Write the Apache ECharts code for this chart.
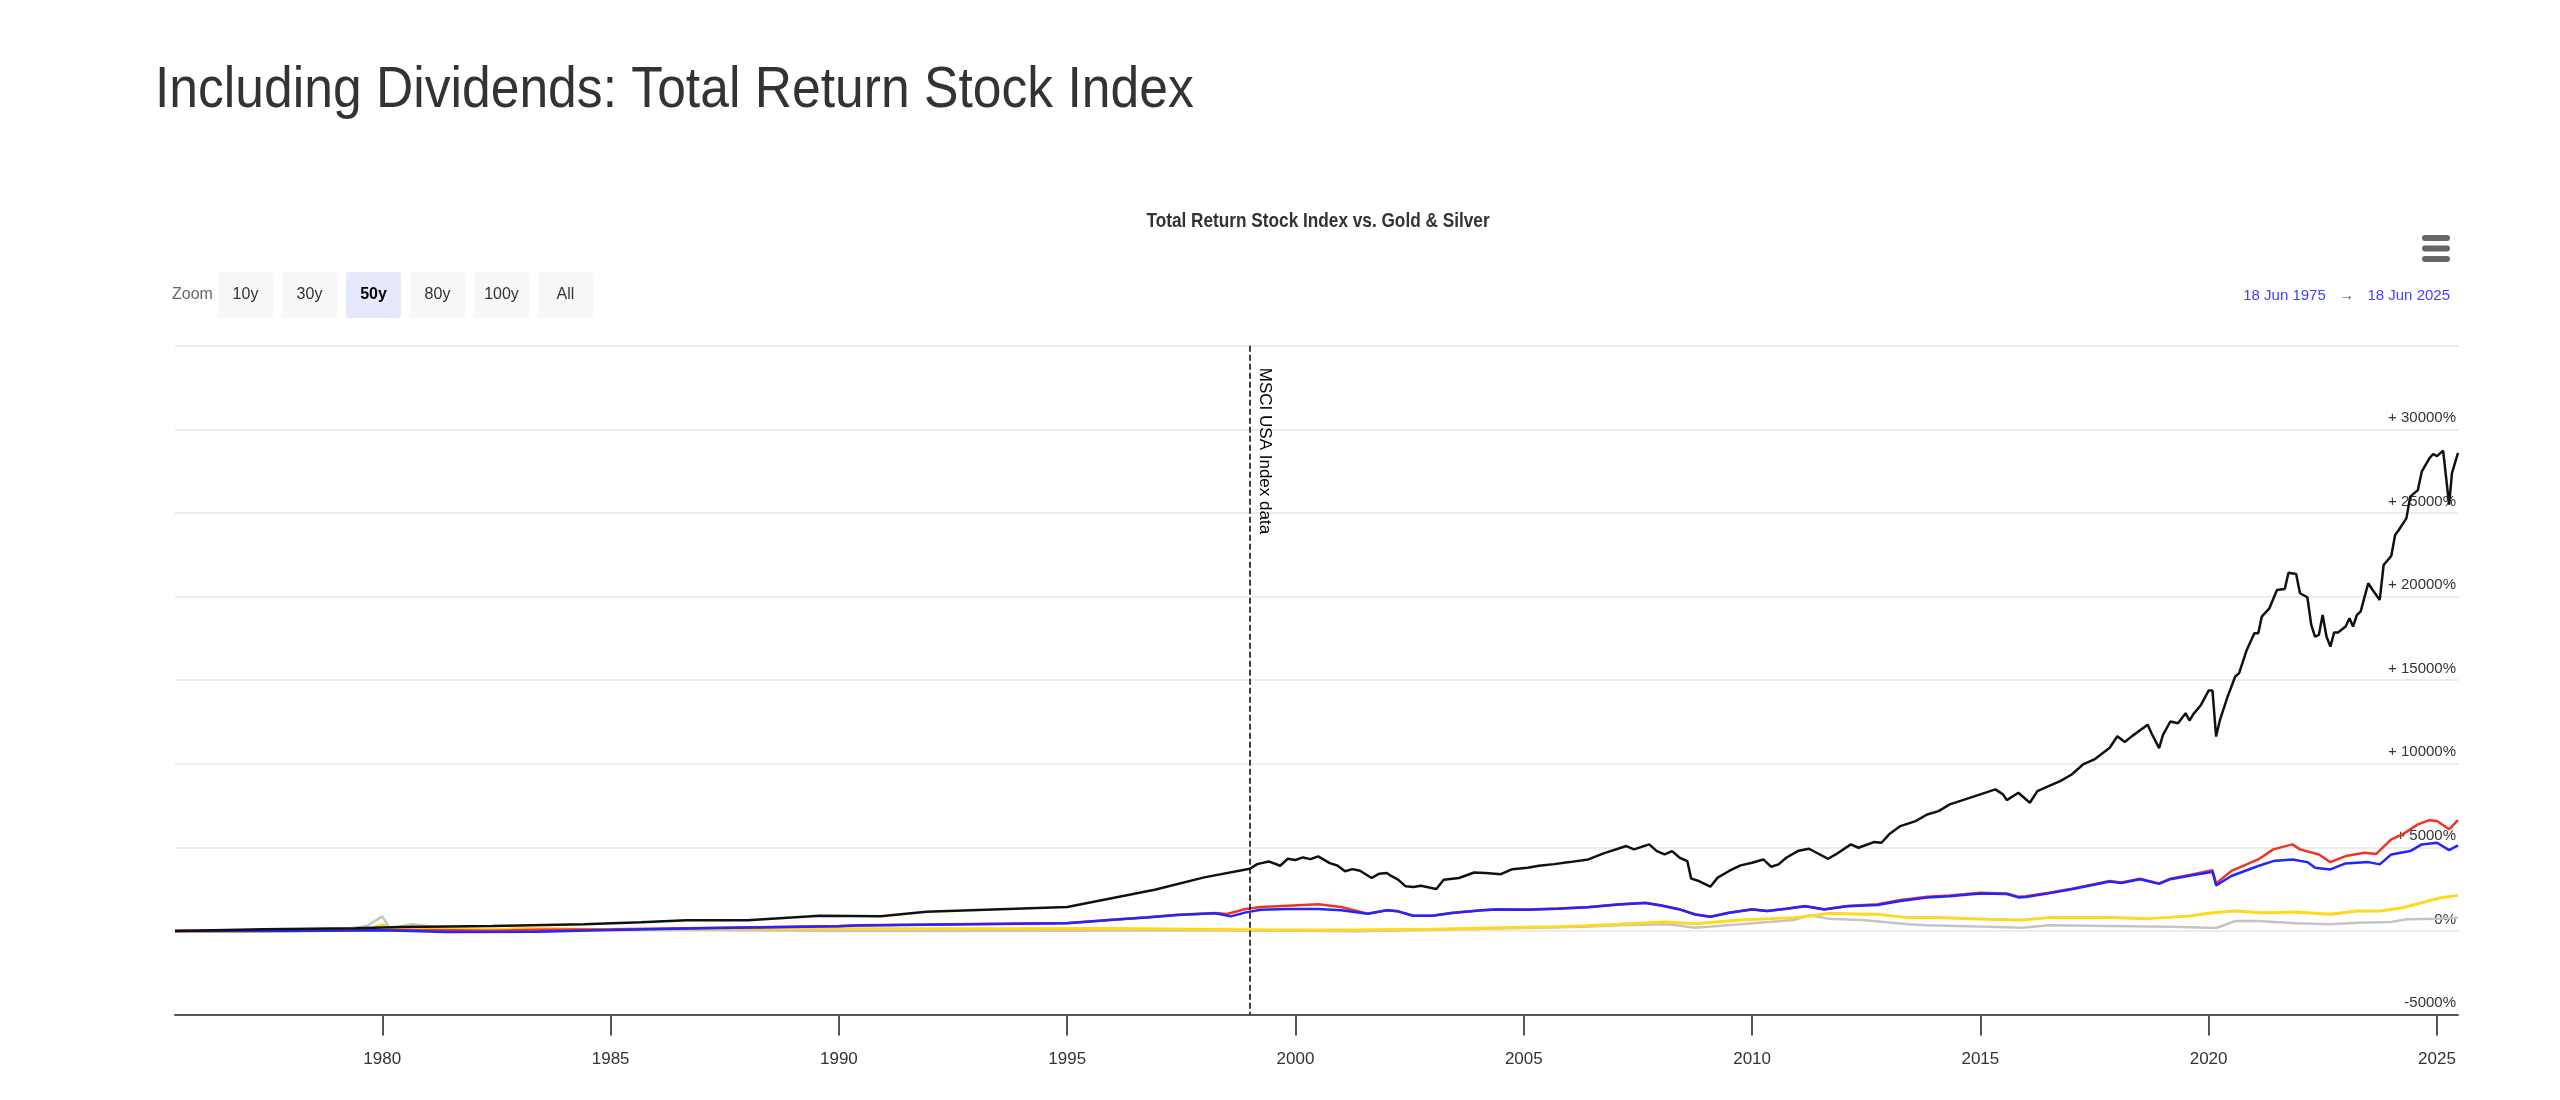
<!DOCTYPE html>
<html>
<head>
<meta charset="utf-8">
<title>Including Dividends: Total Return Stock Index</title>
<script src="https://cdn.jsdelivr.net/npm/echarts@6/dist/echarts.min.js"></script>
<style>
    html, body { margin: 0; padding: 0; background: #fff; }
    #chartOne { width: 2560px; height: 1100px; }
</style>
</head>
<body>
<div id="chartOne"></div>
<script>
// range shown by the 50y zoom
var rangeStart = '1975-06-18';
var rangeEnd = '2025-06-18';
var plotLineDate = '1999-01-01';

var zoomButtons = ['10y', '30y', '50y', '80y', '100y', 'All'];
var zoomSelected = '50y';

var yearTicks = ['1980', '1985', '1990', '1995', '2000', '2005', '2010', '2015', '2020', '2025'];

// % change since start
var stockTR = [
    ['1975-06-18', 0], ['1977-06', 100], ['1979-06', 160], ['1980-06', 240], ['1982-06', 300],
    ['1984-06', 400], ['1985-09', 520], ['1986-09', 640], ['1988-01', 640], ['1989-08', 915],
    ['1990-12', 880], ['1991-12', 1155], ['1995-01', 1434], ['1996-12', 2470], ['1998-01', 3207],
    ['1999-01', 3720], ['1999-03', 4000], ['1999-06', 4160], ['1999-09', 3900], ['1999-11', 4320],
    ['2000-01', 4250], ['2000-03', 4400], ['2000-05', 4300], ['2000-07', 4460], ['2000-10', 4060],
    ['2000-12', 3920], ['2001-02', 3570], ['2001-04', 3700], ['2001-06', 3600], ['2001-09', 3170],
    ['2001-11', 3430], ['2002-01', 3470], ['2002-02', 3310], ['2002-04', 3070], ['2002-06', 2670],
    ['2002-08', 2630], ['2002-10', 2710], ['2003-02', 2510], ['2003-04', 3070], ['2003-08', 3170],
    ['2003-12', 3500], ['2004-03', 3470], ['2004-07', 3400], ['2004-10', 3700], ['2005-02', 3780],
    ['2005-05', 3900], ['2005-09', 4000], ['2006-01', 4120], ['2006-06', 4280], ['2006-10', 4640],
    ['2007-04', 5080], ['2007-06', 4880], ['2007-10', 5180], ['2007-12', 4780], ['2008-02', 4580],
    ['2008-04', 4780], ['2008-06', 4380], ['2008-08', 4180], ['2008-09', 3130], ['2008-11', 2990],
    ['2009-02', 2650], ['2009-04', 3190], ['2009-07', 3590], ['2009-10', 3925], ['2010-01', 4080],
    ['2010-04', 4280], ['2010-06', 3845], ['2010-08', 3985], ['2010-10', 4380], ['2011-01', 4780],
    ['2011-04', 4920], ['2011-06', 4680], ['2011-09', 4320], ['2011-11', 4580], ['2012-03', 5180],
    ['2012-05', 4980], ['2012-09', 5320], ['2012-11', 5280], ['2013-01', 5780], ['2013-04', 6275],
    ['2013-08', 6575], ['2013-11', 6970], ['2014-02', 7170], ['2014-05', 7570], ['2014-09', 7870],
    ['2015-01', 8170], ['2015-05', 8470], ['2015-07', 8170], ['2015-08', 7830], ['2015-11', 8270],
    ['2016-02', 7670], ['2016-04', 8370], ['2016-08', 8765], ['2016-10', 8965], ['2017-01', 9360],
    ['2017-04', 9960], ['2017-07', 10260], ['2017-11', 10960], ['2018-01', 11650], ['2018-03', 11300],
    ['2018-05', 11670], ['2018-09', 12330], ['2018-10', 11830], ['2018-12', 10940], ['2019-01', 11730],
    ['2019-03', 12530], ['2019-05', 12430], ['2019-07', 13030], ['2019-08', 12590], ['2019-09', 12970],
    ['2019-11', 13520], ['2020-01', 14380], ['2020-02', 14380], ['2020-03', 11630], ['2020-04', 12630],
    ['2020-06', 14020], ['2020-08', 15220], ['2020-09', 15420], ['2020-11', 16810], ['2021-01', 17810],
    ['2021-02', 17810], ['2021-03', 18800], ['2021-05', 19300], ['2021-07', 20400], ['2021-09', 20460],
    ['2021-10', 21430], ['2021-12', 21350], ['2022-01', 20200], ['2022-03', 19960], ['2022-04', 18310],
    ['2022-05', 17610], ['2022-06', 17710], ['2022-07', 18900], ['2022-08', 17610], ['2022-09', 17010],
    ['2022-10', 17850], ['2022-11', 17850], ['2023-01', 18210], ['2023-02', 18700], ['2023-03', 18210],
    ['2023-04', 18900], ['2023-05', 19100], ['2023-07', 20800], ['2023-08', 20440], ['2023-10', 19800],
    ['2023-11', 21890], ['2024-01', 22430], ['2024-02', 23690], ['2024-03', 23980], ['2024-05', 24680],
    ['2024-06', 25980], ['2024-08', 26370], ['2024-09', 27470], ['2024-11', 28270], ['2024-12', 28530],
    ['2025-01', 28400], ['2025-02-19', 28730], ['2025-04-08', 25500], ['2025-05-01', 27400], ['2025-06-18', 28600]
];

var stockUSD = [
    ['1975-06-18', 0], ['1978-01', 20], ['1980-01', 60], ['1981-06', 40], ['1982-06', 20],
    ['1983-06', 80], ['1985-01', 100], ['1987-01', 180], ['1990-01', 300], ['1990-06', 340],
    ['1995-01', 480], ['1996-01', 680], ['1996-10', 820], ['1997-06', 975], ['1998-04', 1075],
    ['1998-07', 1015], ['1998-12', 1315], ['1999-04', 1434], ['1999-11', 1514], ['2000-07', 1594],
    ['2001-01', 1434], ['2001-08', 1036], ['2002-01', 1235], ['2002-04', 1175], ['2002-08', 916],
    ['2003-01', 916], ['2003-06', 1075], ['2004-02', 1235], ['2004-06', 1295], ['2005-02', 1280],
    ['2005-10', 1340], ['2006-06', 1435], ['2007-02', 1595], ['2007-09', 1690], ['2008-01', 1535],
    ['2008-06', 1295], ['2008-10', 1000], ['2009-02', 855], ['2009-07', 1095], ['2010-01', 1295],
    ['2010-05', 1195], ['2010-10', 1335], ['2011-03', 1495], ['2011-08', 1295], ['2012-02', 1495],
    ['2012-10', 1595], ['2013-04', 1850], ['2013-11', 2050], ['2014-05', 2130], ['2015-01', 2290],
    ['2015-08', 2250], ['2015-11', 2050], ['2016-01', 2080], ['2016-07', 2290], ['2017-01', 2530],
    ['2017-11', 2990], ['2018-02', 2900], ['2018-07', 3130], ['2018-12', 2850], ['2019-03', 3130],
    ['2019-09', 3390], ['2020-01', 3590], ['2020-02', 3640], ['2020-03', 2850], ['2020-07', 3590],
    ['2021-02', 4280], ['2021-06', 4880], ['2021-11', 5180], ['2022-01', 4880], ['2022-06', 4580],
    ['2022-09', 4120], ['2023-01', 4480], ['2023-06', 4680], ['2023-09', 4600], ['2024-01', 5480],
    ['2024-04', 5780], ['2024-08', 6375], ['2024-11', 6630], ['2025-01', 6575], ['2025-04-08', 6080],
    ['2025-06-18', 6630]
];

var stockEUR = [
    ['1975-06-18', 0], ['1978-01', 0], ['1980-01', 40], ['1981-06', -60], ['1983-06', -40],
    ['1985-01', 60], ['1987-01', 160], ['1990-01', 290], ['1990-06', 330], ['1995-01', 470],
    ['1996-01', 670], ['1996-10', 810], ['1997-06', 960], ['1998-04', 1060], ['1998-08', 876],
    ['1998-12', 1115], ['1999-04', 1275], ['1999-11', 1315], ['2000-07', 1315], ['2001-01', 1235],
    ['2001-08', 1036], ['2002-01', 1235], ['2002-04', 1175], ['2002-08', 916], ['2003-01', 916],
    ['2003-06', 1075], ['2004-02', 1235], ['2004-06', 1290], ['2005-02', 1275], ['2005-10', 1330],
    ['2006-06', 1425], ['2007-02', 1580], ['2007-09', 1670], ['2008-01', 1520], ['2008-06', 1290],
    ['2008-10', 990], ['2009-02', 850], ['2009-07', 1090], ['2010-01', 1290], ['2010-05', 1190],
    ['2010-10', 1325], ['2011-03', 1480], ['2011-08', 1290], ['2012-02', 1480], ['2012-10', 1560],
    ['2013-04', 1800], ['2013-11', 2000], ['2014-05', 2080], ['2015-01', 2240], ['2015-08', 2210],
    ['2015-11', 2010], ['2016-01', 2040], ['2016-07', 2250], ['2017-01', 2500], ['2017-11', 2960],
    ['2018-02', 2870], ['2018-07', 3090], ['2018-12', 2820], ['2019-03', 3100], ['2019-09', 3350],
    ['2020-01', 3500], ['2020-02', 3540], ['2020-03', 2730], ['2020-07', 3290], ['2021-02', 3885],
    ['2021-06', 4180], ['2021-11', 4280], ['2022-03', 4120], ['2022-05', 3785], ['2022-09', 3685],
    ['2023-01', 4040], ['2023-07', 4120], ['2023-10', 3985], ['2024-01', 4580], ['2024-06', 4780],
    ['2024-09', 5180], ['2025-01', 5280], ['2025-04-08', 4840], ['2025-06-18', 5120]
];

var gold = [
    ['1975-06-18', 0], ['1976-08', -30], ['1978-01', 10], ['1979-06', 70], ['1979-10', 160],
    ['1980-01', 380], ['1980-03', 200], ['1980-09', 260], ['1981-06', 150], ['1982-06', 80],
    ['1983-02', 150], ['1985-03', 80], ['1987-12', 150], ['1990-01', 140], ['1993-08', 140],
    ['1996-01', 150], ['1999-07', 60], ['2001-04', 60], ['2003-01', 100], ['2004-06', 200],
    ['2005-10', 260], ['2006-05', 320], ['2007-02', 400], ['2008-02', 540], ['2008-10', 440],
    ['2009-10', 660], ['2010-12', 800], ['2011-06', 940], ['2011-09', 1055], ['2012-06', 1000],
    ['2012-10', 1000], ['2013-06', 800], ['2014-01', 800], ['2015-03', 700], ['2015-12', 660],
    ['2016-07', 800], ['2017-11', 800], ['2018-09', 740], ['2019-08', 900], ['2020-02', 1095],
    ['2020-08', 1195], ['2021-03', 1095], ['2021-12', 1135], ['2022-09', 1000], ['2023-04', 1195],
    ['2023-10', 1195], ['2024-04', 1395], ['2024-09', 1690], ['2025-02', 1990], ['2025-06-18', 2130]
];

var silver = [
    ['1975-06-18', 0], ['1977-01', -10], ['1979-01', 40], ['1979-09', 300], ['1980-01', 876],
    ['1980-03', 150], ['1980-09', 400], ['1981-06', 150], ['1982-06', 30], ['1983-02', 180],
    ['1985-01', 60], ['1987-06', 60], ['1990-01', 0], ['1995-01', 20], ['1998-01', 40],
    ['2001-06', -10], ['2004-06', 150], ['2006-05', 250], ['2007-02', 340], ['2008-03', 400],
    ['2008-10', 200], ['2009-10', 400], ['2010-12', 660], ['2011-04', 940], ['2011-09', 740],
    ['2012-06', 660], ['2013-06', 400], ['2013-11', 340], ['2015-03', 260], ['2015-12', 200],
    ['2016-07', 340], ['2017-11', 300], ['2019-03', 260], ['2020-03', 180], ['2020-08', 600],
    ['2021-02', 600], ['2021-12', 460], ['2022-09', 400], ['2023-04', 500], ['2024-01', 540],
    ['2024-05', 700], ['2025-01', 740], ['2025-06-18', 800]
];

var FONT = '"Liberation Sans", Arial, Helvetica, sans-serif';
var MONTHS = ['Jan', 'Feb', 'Mar', 'Apr', 'May', 'Jun', 'Jul', 'Aug', 'Sep', 'Oct', 'Nov', 'Dec'];

// 'YYYY', 'YYYY-MM' or 'YYYY-MM-DD' -> ms (UTC)
function toTime(s) {
    var p = s.split('-');
    return Date.UTC(+p[0], p[1] ? +p[1] - 1 : 0, p[2] ? +p[2] : 1);
}

function niceDate(s) {
    var p = s.split('-');
    return (+p[2]) + ' ' + MONTHS[+p[1] - 1] + ' ' + p[0];
}

function pctLabel(v) {
    if (v >= 35000) return '';
    if (v > 0) return '+ ' + v + '%';
    return v + '%';
}

function lineSeries(name, data, color, width, z) {
    return {
        name: name,
        type: 'line',
        data: data.map(function (d) { return [toTime(d[0]), d[1]]; }),
        showSymbol: false,
        symbol: 'none',
        z: z,
        lineStyle: { color: color, width: width },
        itemStyle: { color: color }
    };
}

var graphics = [];

// page heading and chart title, squeezed a little like the narrow face in the picture
graphics.push({
    type: 'text', x: 155, y: 62, scaleX: 0.89,
    style: { text: 'Including Dividends: Total Return Stock Index', font: '58px ' + FONT, fill: '#333' }
});
graphics.push({
    type: 'text', x: 1318, y: 211, scaleX: 0.82,
    style: { text: 'Total Return Stock Index vs. Gold & Silver', font: 'bold 21px ' + FONT,
             fill: '#333', align: 'center' }
});

graphics.push({
    type: 'text', left: 172, top: 287,
    style: { text: 'Zoom', font: '16px ' + FONT, fill: '#666' }
});
zoomButtons.forEach(function (label, i) {
    var on = label === zoomSelected;
    graphics.push({
        type: 'group', left: 218 + i * 64, top: 272,
        children: [
            { type: 'rect', shape: { x: 0, y: 0, width: 55, height: 46, r: 3 },
              style: { fill: on ? '#e6e9fc' : '#f7f7f7' } },
            { type: 'text', x: 27.5, y: 23,
              style: { text: label, font: (on ? 'bold ' : '') + '16px ' + FONT,
                       fill: on ? '#000' : '#333', align: 'center', verticalAlign: 'middle' } }
        ]
    });
});

// export menu icon
[0, 1, 2].forEach(function (k) {
    graphics.push({
        type: 'rect', left: 2422, top: 235 + k * 10.5,
        shape: { width: 28, height: 6, r: 3 },
        style: { fill: '#666' }
    });
});

graphics.push({
    type: 'text', right: 110, top: 288,
    style: {
        text: '{d|' + niceDate(rangeStart) + '}    {a|\u2192}    {d|' + niceDate(rangeEnd) + '}',
        rich: {
            d: { font: '15px ' + FONT, fill: '#4040ff' },
            a: { font: '15px ' + FONT, fill: '#555' }
        }
    }
});

var tickTimes = yearTicks.map(toTime);
var lineTime = toTime(plotLineDate);

var trSeries = lineSeries('Total Return Stock Index', stockTR, '#111', 2.5, 6);
trSeries.markLine = {
    silent: true,
    symbol: 'none',
    animation: false,
    lineStyle: { color: '#000', type: [6, 3], width: 1.5 },
    label: {
        show: true, position: 'insideStartTop', distance: [22, 6],
        formatter: 'MSCI USA Index data', color: '#000', fontSize: 17, fontFamily: FONT
    },
    data: [[{ coord: [lineTime, 35000] }, { coord: [lineTime, -5000] }]]
};

var option = {
    animation: false,
    backgroundColor: '#fff',
    textStyle: { fontFamily: FONT },
    graphic: graphics,
    grid: { left: 175, right: 102, top: 345.8, bottom: 85.4, containLabel: false },
    xAxis: {
        type: 'value',
        min: toTime(rangeStart),
        max: toTime(rangeEnd),
        splitLine: { show: false },
        axisLine: { onZero: false, lineStyle: { color: '#555', width: 2 } },
        axisTick: { show: true, length: 21, customValues: tickTimes, lineStyle: { color: '#555', width: 2 } },
        axisLabel: {
            customValues: tickTimes,
            formatter: function (v) { return String(new Date(v).getUTCFullYear()); },
            color: '#333', fontSize: 17, margin: 36, fontFamily: FONT
        }
    },
    yAxis: {
        type: 'value',
        position: 'right',
        min: -5000,
        max: 35000,
        interval: 5000,
        axisLine: { show: false },
        axisTick: { show: false },
        splitLine: { lineStyle: { color: '#e6e6e6', width: 1.5 } },
        axisLabel: {
            inside: true, margin: 2, verticalAlign: 'bottom', padding: [0, 0, 4, 0],
            formatter: pctLabel, color: '#333', fontSize: 15, fontFamily: FONT
        }
    },
    series: [
        lineSeries('Silver', silver, '#c4c4c4', 2.5, 2),
        lineSeries('Gold', gold, '#ffd820', 3, 3),
        lineSeries('Stock Index (USD)', stockUSD, '#ee3524', 2.5, 4),
        lineSeries('Stock Index (EUR)', stockEUR, '#2424ff', 2.5, 5),
        trSeries
    ]
};

var chartOne = echarts.init(document.getElementById('chartOne'));
chartOne.setOption(option, true);
</script>
</body>
</html>
